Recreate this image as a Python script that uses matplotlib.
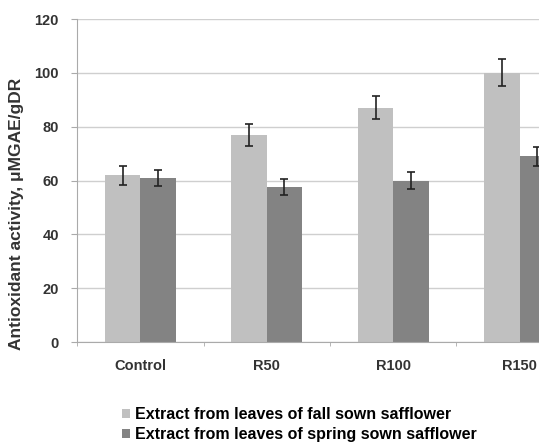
import numpy as np
import matplotlib
matplotlib.use("Agg")
from matplotlib import pyplot as plt

# Data
categories = ["Control", "R50", "R100", "R150"]
fall_values = [62, 77, 87, 100]
fall_errors = [3.5, 4.0, 4.3, 5.0]
spring_values = [61, 57.5, 60, 69]
spring_errors = [3.0, 3.0, 3.2, 3.5]
series_labels = [
    "Extract from leaves of fall sown safflower",
    "Extract from leaves of spring sown safflower",
]

plt.rcParams["font.family"] = ["Liberation Sans", "DejaVu Sans"]

fig = plt.figure(figsize=(5.39, 4.44), dpi=100)
# plot area runs past the right edge like the cropped original
ax = fig.add_axes([0.1429, 0.2297, 0.9387, 0.7273])

x = np.arange(len(categories))
width = 0.28
err_style = dict(ecolor="#222222", elinewidth=1.2, capsize=3, capthick=1.2)
ax.bar(x - width / 2, fall_values, width, color="#c0c0c0", label=series_labels[0],
       yerr=fall_errors, error_kw=err_style, zorder=2)
ax.bar(x + width / 2, spring_values, width, color="#838383", label=series_labels[1],
       yerr=spring_errors, error_kw=err_style, zorder=2)

ax.set_xlim(-0.5, len(categories) - 0.5)
ax.set_ylim(0, 120)
ax.set_yticks(np.arange(0, 121, 20))
ax.yaxis.grid(True, color="#cfcfcf", linewidth=1.0, zorder=0)
ax.set_axisbelow(True)

ax.set_xticks(x)
ax.set_xticklabels(categories, fontsize=10.5, fontweight="bold", color="#333333")
ax.set_xticks(np.arange(-0.5, len(categories), 1), minor=True)
ax.tick_params(axis="x", which="major", length=0, pad=12)
ax.tick_params(axis="x", which="minor", length=3, color="#aaaaaa")
ax.tick_params(axis="y", length=4, color="#aaaaaa", labelsize=10.5, labelcolor="#333333", pad=9)
for lbl in ax.get_yticklabels():
    lbl.set_fontweight("bold")

for side in ["top", "right"]:
    ax.spines[side].set_visible(False)
ax.spines["left"].set_color("#aaaaaa")
ax.spines["bottom"].set_color("#aaaaaa")

fig.text(17 / 539, 1 - 214 / 444, "Antioxidant activity, \u03bcMGAE/gDR", rotation=90,
         ha="center", va="center", fontsize=12.5, fontweight="bold", color="#333333")

fig.legend(loc="upper left", bbox_to_anchor=(0.226, 0.083), frameon=False,
           prop={"weight": "bold", "size": 11.5},
           handlelength=0.5, handleheight=0.5, handletextpad=0.3, labelspacing=0.3,
           borderaxespad=0, borderpad=0)

fig.savefig("out.png", dpi=100)
